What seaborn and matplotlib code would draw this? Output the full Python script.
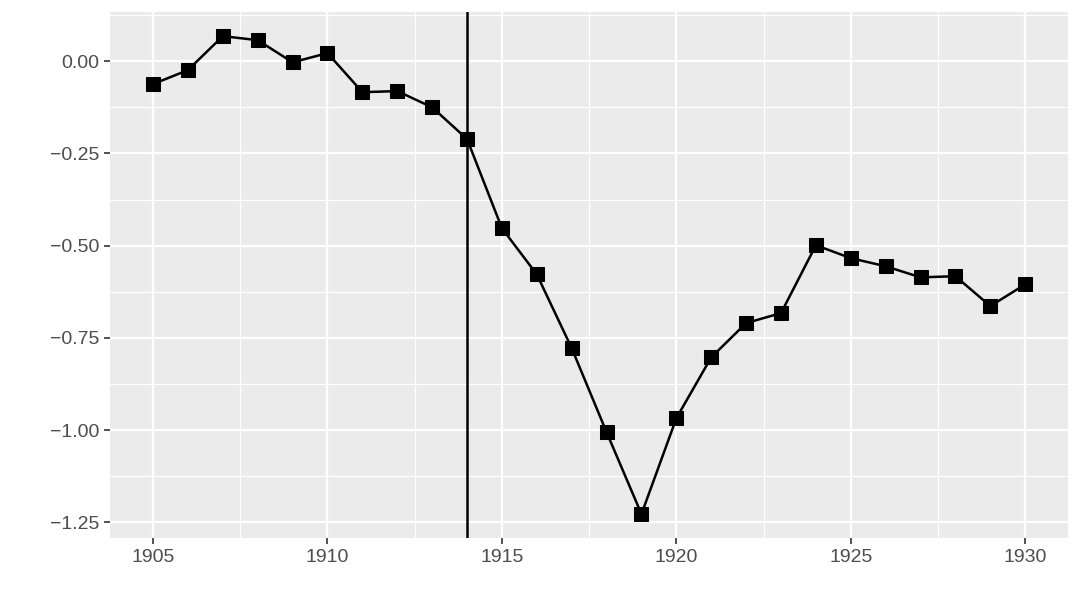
import numpy as np
import pandas as pd
import matplotlib
matplotlib.use("Agg")
import matplotlib.pyplot as plt
import seaborn as sns
from matplotlib.ticker import MultipleLocator

# --- data ---
years = list(range(1905, 1931))
values = [-0.062, -0.024, 0.068, 0.057, -0.003, 0.022, -0.084, -0.081, -0.125,
          -0.211, -0.453, -0.578, -0.778, -1.006, -1.228, -0.968, -0.803, -0.710,
          -0.683, -0.499, -0.534, -0.556, -0.586, -0.583, -0.664, -0.605]
event_year = 1914

df = pd.DataFrame({"year": years, "value": values})

sns.set_theme(style="darkgrid", rc={
    "axes.facecolor": "#ebebeb",
    "grid.color": "white",
    "axes.edgecolor": "#ebebeb",
})
plt.rcParams["font.family"] = ["Liberation Sans", "DejaVu Sans"]

fig = plt.figure(figsize=(10.8, 6.08), dpi=100)
ax = fig.add_axes([0.102, 0.115, 0.887, 0.865])

sns.lineplot(data=df, x="year", y="value", ax=ax, color="black", linewidth=1.8,
             marker="s", markersize=9.5, markeredgecolor="black", markerfacecolor="black")
ax.axvline(event_year, color="black", linewidth=1.8)

ax.set_xlim(1903.77, 1931.23)
ax.set_ylim(-1.293, 0.133)
ax.xaxis.set_major_locator(MultipleLocator(5))
ax.xaxis.set_minor_locator(MultipleLocator(2.5))
ax.yaxis.set_major_locator(MultipleLocator(0.25))
ax.yaxis.set_minor_locator(MultipleLocator(0.125))
ax.yaxis.set_major_formatter(matplotlib.ticker.FuncFormatter(lambda v, p: f"{v:.2f}".replace("-", "\u2212")))
ax.grid(which="major", color="white", linewidth=1.6)
ax.grid(which="minor", color="white", linewidth=0.8)
ax.tick_params(which="major", length=4, width=1.2, color="#333333", labelsize=14,
               labelcolor="#4d4d4d", left=True, bottom=True, pad=4)
ax.tick_params(which="minor", length=0)
ax.set_xlabel("")
ax.set_ylabel("")
for s in ax.spines.values():
    s.set_visible(False)

plt.savefig("out.png", dpi=100)
plt.close()
